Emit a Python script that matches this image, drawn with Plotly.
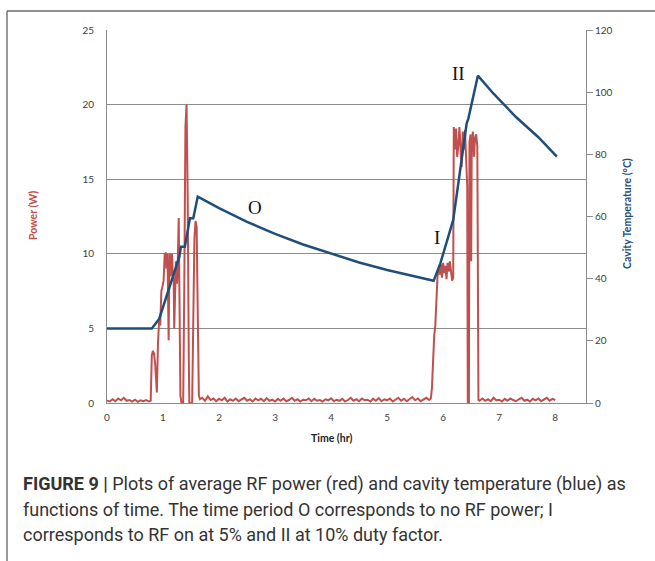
import plotly.graph_objects as go

# ---------------- data ----------------
power_time = [
    0.00, 0.05, 0.10, 0.15, 0.20, 0.25, 0.30, 0.35, 0.40, 0.45, 0.50, 0.55, 0.60, 0.65, 0.70, 0.75, 0.78,
    0.80, 0.82, 0.84, 0.86, 0.88, 0.89, 0.91, 0.93, 0.95, 0.97, 0.99, 1.01, 1.03, 1.04, 1.05, 1.06, 1.08,
    1.09, 1.10, 1.11, 1.12, 1.13, 1.14, 1.15, 1.16, 1.17, 1.19, 1.20, 1.22, 1.23, 1.25, 1.26, 1.28, 1.30,
    1.31, 1.33, 1.36, 1.38, 1.40, 1.42, 1.44, 1.46, 1.47, 1.52, 1.54, 1.56, 1.58, 1.60, 1.62, 1.64, 1.66,
    1.70, 1.75, 1.80, 1.85, 1.90, 1.95, 2.00, 2.05, 2.10, 2.15, 2.20, 2.25, 2.30, 2.35, 2.40, 2.45, 2.50,
    2.55, 2.60, 2.65, 2.70, 2.75, 2.80, 2.85, 2.90, 2.95, 3.00, 3.05, 3.10, 3.15, 3.20, 3.25, 3.30, 3.35,
    3.40, 3.45, 3.50, 3.55, 3.60, 3.65, 3.70, 3.75, 3.80, 3.85, 3.90, 3.95, 4.00, 4.05, 4.10, 4.15, 4.20,
    4.25, 4.30, 4.35, 4.40, 4.45, 4.50, 4.55, 4.60, 4.65, 4.70, 4.75, 4.80, 4.85, 4.90, 4.95, 5.00, 5.05,
    5.10, 5.15, 5.20, 5.25, 5.30, 5.35, 5.40, 5.45, 5.50, 5.55, 5.60, 5.65, 5.70, 5.75,
    5.78, 5.80, 5.82, 5.84, 5.86, 5.88, 5.90, 5.92, 5.94, 5.96, 5.98, 6.00, 6.02, 6.04, 6.06, 6.08, 6.10,
    6.12, 6.14, 6.16, 6.18, 6.19, 6.21, 6.23, 6.25, 6.27, 6.29, 6.31, 6.33, 6.35, 6.37, 6.39, 6.41, 6.43,
    6.44, 6.46, 6.47, 6.49, 6.50, 6.51, 6.53, 6.55, 6.57, 6.59, 6.61, 6.62, 6.63, 6.65,
    6.70, 6.75, 6.80, 6.85, 6.90, 6.95, 7.00, 7.05, 7.10, 7.15, 7.20, 7.25, 7.30, 7.35, 7.40, 7.45, 7.50,
    7.55, 7.60, 7.65, 7.70, 7.75, 7.80, 7.85, 7.90, 7.95, 8.00,
]
power_w = [
    0.15, 0.10, 0.25, 0.12, 0.30, 0.18, 0.35, 0.15, 0.20, 0.10, 0.22, 0.08, 0.18, 0.12, 0.20, 0.10, 0.15,
    3.2, 3.5, 3.3, 2.6, 0.8, 0.7, 4.0, 5.5, 5.2, 7.5, 7.8, 8.2, 10.0, 9.6, 10.1, 9.0, 10.0,
    6.0, 4.2, 8.0, 10.0, 9.2, 8.5, 9.7, 10.0, 9.0, 8.2, 5.0, 8.5, 9.5, 8.0, 9.0, 12.4, 6.0,
    0.5, 0.0, 0.0, 8.0, 18.5, 20.0, 14.0, 3.0, 0.0, 0.0, 6.0, 11.0, 12.2, 11.8, 6.0, 0.5, 0.25,
    0.35, 0.15, 0.45, 0.20, 0.30, 0.12, 0.28, 0.18, 0.35, 0.10, 0.25, 0.15, 0.30, 0.12, 0.22, 0.35, 0.15,
    0.25, 0.10, 0.30, 0.18, 0.28, 0.12, 0.33, 0.15, 0.22, 0.10, 0.28, 0.15, 0.30, 0.12, 0.20, 0.35, 0.15,
    0.25, 0.10, 0.22, 0.18, 0.30, 0.12, 0.28, 0.15, 0.20, 0.10, 0.25, 0.18, 0.32, 0.12, 0.22, 0.15, 0.28,
    0.10, 0.20, 0.35, 0.15, 0.25, 0.12, 0.30, 0.18, 0.22, 0.10, 0.28, 0.15, 0.33, 0.12, 0.25, 0.18, 0.30,
    0.10, 0.22, 0.35, 0.15, 0.28, 0.12, 0.25, 0.40, 0.18, 0.30, 0.12, 0.22, 0.35, 0.20,
    0.3, 1.0, 3.0, 4.5, 5.2, 7.5, 8.5, 9.0, 8.6, 9.3, 8.4, 9.4, 8.7, 9.2, 8.3, 9.4, 8.8,
    9.5, 8.6, 8.2, 8.4, 18.5, 17.0, 18.4, 16.5, 17.2, 18.5, 16.8, 15.8, 18.2, 17.0, 18.3, 16.0, 14.5,
    0.0, 0.0, 17.5, 18.0, 9.5, 17.0, 18.2, 16.5, 17.8, 18.0, 17.2, 8.0, 0.2, 0.15,
    0.30, 0.15, 0.25, 0.12, 0.35, 0.18, 0.22, 0.10, 0.28, 0.15, 0.30, 0.20, 0.12, 0.25, 0.35, 0.15, 0.22,
    0.10, 0.28, 0.18, 0.30, 0.12, 0.25, 0.35, 0.15, 0.28, 0.20,
]

temp_time = [0.00, 0.80, 0.93, 1.29, 1.32, 1.39, 1.48, 1.54, 1.62, 2.00, 2.50, 3.00, 3.50, 4.00,
             4.50, 5.00, 5.50, 5.83, 5.95, 6.18, 6.42, 6.45, 6.62, 6.90, 7.30, 7.70, 8.03]
temp_c = [24.0, 24.0, 27.0, 47.0, 50.3, 50.3, 59.4, 59.4, 66.4, 62.7, 58.3, 54.4, 51.0, 48.0,
          45.2, 42.8, 40.7, 39.3, 44.9, 58.9, 90.0, 91.5, 105.3, 99.5, 92.0, 85.5, 79.3]

x_ticks = [0, 1, 2, 3, 4, 5, 6, 7, 8]
power_ticks = [0, 5, 10, 15, 20, 25]
temp_ticks = [0, 20, 40, 60, 80, 100, 120]

period_labels = ["O", "I", "II"]
period_x = [2.64, 5.89, 6.27]
period_y = [13.1, 11.1, 22.1]

caption_lines = [
    "<b>FIGURE 9 |</b> Plots of average RF power (red) and cavity temperature (blue) as",
    "functions of time. The time period O corresponds to no RF power; I",
    "corresponds to RF on at 5% and II at 10% duty factor.",
]

# ---------------- figure ----------------
RED = "#C0504D"
BLUE = "#1F4E79"
GRID = "#8C8C8C"
TICKFONT = dict(family="Lato, Open Sans, sans-serif", size=10, color="#404040")

fig = go.Figure()
fig.add_trace(go.Scatter(x=power_time, y=power_w, mode="lines",
                         line=dict(color=RED, width=2), yaxis="y", showlegend=False))
fig.add_trace(go.Scatter(x=temp_time, y=temp_c, mode="lines",
                         line=dict(color=BLUE, width=2.5), yaxis="y2", showlegend=False))

L, R, T, B = 107, 69, 30, 158
W, H = 655, 561
pw, ph = W - L - R, H - T - B


def px(xp):
    return (xp - L) / pw


def py(yp):
    return (H - B - yp) / ph


fig.update_layout(
    width=W, height=H,
    margin=dict(l=L, r=R, t=T, b=B),
    paper_bgcolor="white", plot_bgcolor="white",
    xaxis=dict(range=[0, 8.55], tickvals=x_ticks, ticktext=[str(v) for v in x_ticks],
               showgrid=False, zeroline=False, showline=True, linecolor=GRID, linewidth=1,
               ticks="", tickfont=TICKFONT, ticklabelstandoff=5),
    yaxis=dict(range=[0, 25], tickvals=power_ticks, showgrid=True, gridcolor=GRID, gridwidth=1,
               zeroline=False, showline=True, linecolor=GRID, linewidth=1, ticks="",
               tickfont=TICKFONT, ticklabelstandoff=10),
    yaxis2=dict(range=[0, 120], tickvals=temp_ticks, overlaying="y", side="right",
                showgrid=False, zeroline=False, showline=True, linecolor=GRID, linewidth=1,
                ticks="outside", ticklen=6, tickcolor=GRID, tickfont=TICKFONT),
)

annotations = []
for lab, xv, yv in zip(period_labels, period_x, period_y):
    annotations.append(dict(x=xv, y=yv, xref="x", yref="y", text=lab, showarrow=False,
                            font=dict(family="Liberation Serif, Times New Roman, serif",
                                      size=19, color="#111111")))

annotations.append(dict(x=px(25), y=py(216), xref="paper", yref="paper", text="<b>Power (W)</b>",
                        textangle=-90, showarrow=False,
                        font=dict(family="Lato, sans-serif", size=10.5, color=RED)))
annotations.append(dict(x=px(635), y=py(214), xref="paper", yref="paper",
                        text="<b>Cavity Temperature (°C)</b>", textangle=-90, showarrow=False,
                        font=dict(family="Lato, sans-serif", size=10.5, color=BLUE)))
annotations.append(dict(x=px(331), y=py(446), xref="paper", yref="paper", text="<b>Time (hr)</b>",
                        showarrow=False, font=dict(family="Lato, sans-serif", size=10.5, color="#222222")))

for i, line in enumerate(caption_lines):
    annotations.append(dict(x=px(21), y=py(484 + 25 * i), xref="paper", yref="paper", text=line,
                            xanchor="left", yanchor="middle", showarrow=False, align="left",
                            font=dict(family="Roboto, sans-serif", size=18, color="#333333")))

fig.update_layout(annotations=annotations)

# outer frame: top and left rules
fig.add_shape(type="line", xref="paper", yref="paper", x0=px(7), x1=px(655), y0=py(11), y1=py(11),
              line=dict(color="#222222", width=1.2))
fig.add_shape(type="line", xref="paper", yref="paper", x0=px(7), x1=px(7), y0=py(11), y1=py(561),
              line=dict(color="#777777", width=1.5))

fig.write_html("out.html", config={"displayModeBar": False},
               post_script="document.body.style.margin='0';document.body.style.overflow='hidden';")
